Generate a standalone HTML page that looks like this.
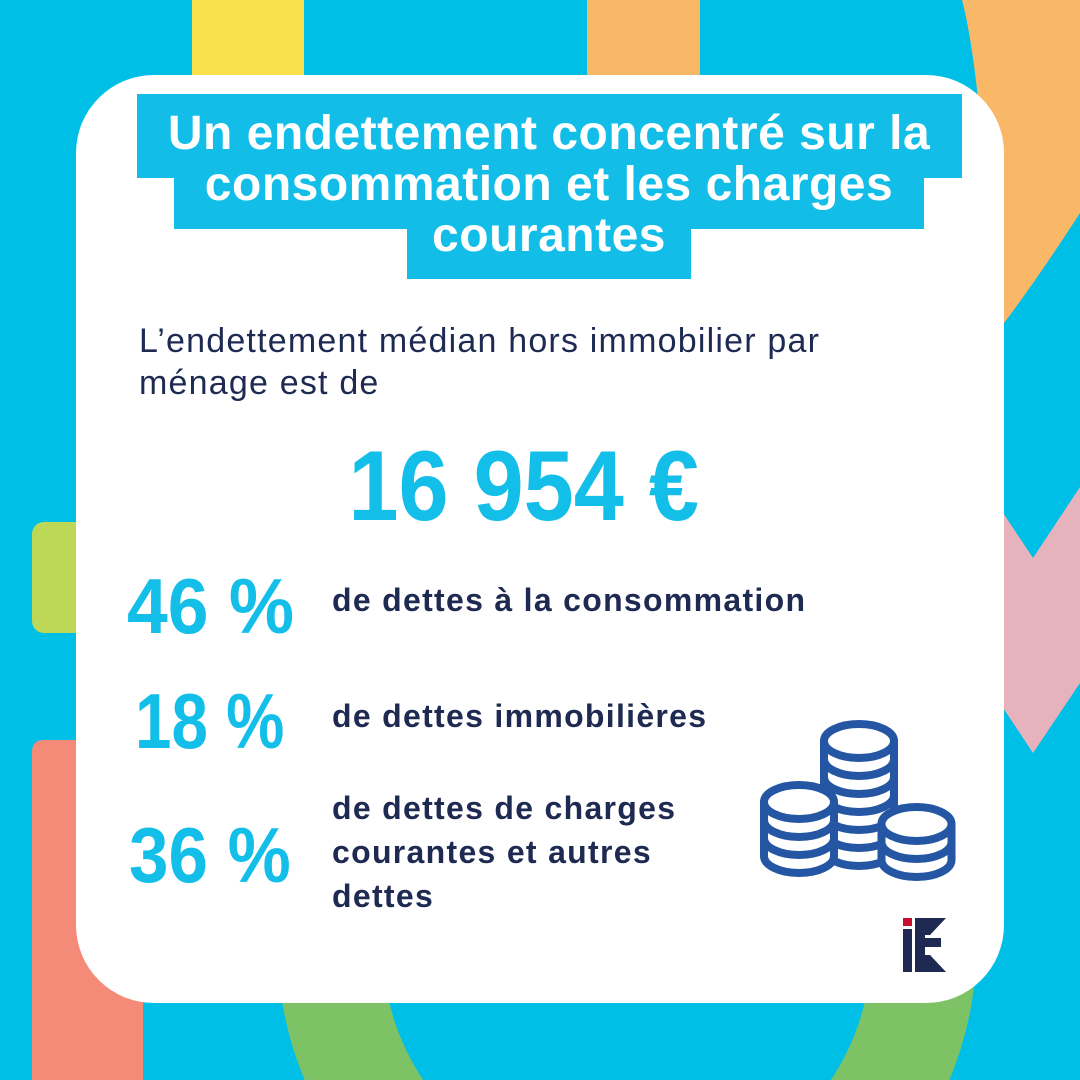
<!DOCTYPE html>
<html>
<head>
<meta charset="utf-8">
<style>
  html,body{margin:0;padding:0;width:1080px;height:1080px;overflow:hidden;}
  body{position:relative;background:#00BFE7;font-family:"Liberation Sans",Arial,sans-serif;}
  .abs{position:absolute;}
  .card{position:absolute;left:76px;top:75px;width:928px;height:928px;background:#fff;border-radius:78px;}
  .tbox{position:absolute;background:#12BEE8;}
  .title{position:absolute;left:99px;width:900px;text-align:center;color:#fff;font-weight:bold;font-size:48px;line-height:51px;letter-spacing:0.5px;white-space:nowrap;}
  .sub{position:absolute;left:139px;color:#1E2A52;font-size:34px;line-height:42px;letter-spacing:1.2px;white-space:nowrap;}
  .big{position:absolute;left:0;width:1047px;text-align:center;top:436px;font-size:99px;line-height:99px;font-weight:bold;color:#13BFE8;white-space:nowrap;}
  .big span{display:inline-block;transform:scaleX(0.91);}
  .pct{position:absolute;font-size:78px;line-height:78px;font-weight:bold;color:#13BFE8;white-space:nowrap;transform-origin:0 0;}
  .lab{position:absolute;left:332px;font-size:32px;line-height:44px;font-weight:bold;color:#1E2A52;letter-spacing:1.3px;white-space:nowrap;}
</style>
</head>
<body>
<svg class="abs" style="left:0;top:0" width="1080" height="1080" viewBox="0 0 1080 1080">
  <rect x="192" y="0" width="112" height="120" fill="#F9E04C"/>
  <rect x="587" y="0" width="113" height="120" fill="#F9B868"/>
  <path d="M962 0 C978 60 990 200 990 340 L1004 323 Q1038 278 1080 213 L1080 0 Z" fill="#F9B868"/>
  <path d="M970 463 L1033 558 L1080 487 L1080 683 L1033 753 L970 658 Z" fill="#E6B2BC"/>
  <rect x="32" y="522" width="80" height="111" rx="12" fill="#BCD856"/>
  <path d="M32 1080 L32 752 Q32 740 44 740 L143 740 L143 1080 Z" fill="#F38B78"/>
  <path d="M279.3 980 A349.5 349.5 0 0 0 304.6 1080 L423.1 1080 A244.5 244.5 0 0 1 385 980 Z" fill="#7DC366"/>
  <path d="M974.7 980 A349.5 349.5 0 0 1 949.4 1080 L830.9 1080 A244.5 244.5 0 0 0 869 980 Z" fill="#7DC366"/>
</svg>

<div class="card"></div>

<div class="tbox" style="left:137px;top:94px;width:825px;height:84px;"></div>
<div class="tbox" style="left:174px;top:177px;width:750px;height:52px;"></div>
<div class="tbox" style="left:407px;top:228px;width:284px;height:51px;"></div>

<div class="title" style="top:108px;">Un endettement concentré sur la</div>
<div class="title" style="top:159px;">consommation et les charges</div>
<div class="title" style="top:210px;">courantes</div>

<div class="sub" style="top:320px;">L’endettement médian hors immobilier par</div>
<div class="sub" style="top:362px;">ménage est de</div>

<div class="big"><span>16 954 €</span></div>

<div class="pct" style="left:127px;top:567px;transform:scaleX(0.94);">46 %</div>
<div class="pct" style="left:135px;top:682px;transform:scaleX(0.84);">18 %</div>
<div class="pct" style="left:129px;top:816px;transform:scaleX(0.91);">36 %</div>

<div class="lab" style="top:578px;">de dettes à la consommation</div>
<div class="lab" style="top:694px;">de dettes immobilières</div>
<div class="lab" style="top:786px;">de dettes de charges<br>courantes et autres<br>dettes</div>

<svg class="abs" style="left:0;top:0" width="1080" height="1080" viewBox="0 0 1080 1080">
  <g fill="#fff" stroke="#2456A4" stroke-width="8" stroke-linejoin="round">
    <path d="M824 741 L824 849 A35 17 0 0 0 894 849 L894 741 Z"/>
    <path fill="none" d="M824 759 A35 17 0 0 0 894 759"/>
    <path fill="none" d="M824 777 A35 17 0 0 0 894 777"/>
    <path fill="none" d="M824 795 A35 17 0 0 0 894 795"/>
    <path fill="none" d="M824 813 A35 17 0 0 0 894 813"/>
    <path fill="none" d="M824 831 A35 17 0 0 0 894 831"/>
    <ellipse cx="859" cy="741" rx="35" ry="17"/>
    <path d="M764 802 L764 856 A35 17 0 0 0 834 856 L834 802 Z"/>
    <path fill="none" d="M764 820 A35 17 0 0 0 834 820"/>
    <path fill="none" d="M764 838 A35 17 0 0 0 834 838"/>
    <ellipse cx="799" cy="802" rx="35" ry="17"/>
    <path d="M881.5 824 L881.5 860 A35 17 0 0 0 951.5 860 L951.5 824 Z"/>
    <path fill="none" d="M881.5 842 A35 17 0 0 0 951.5 842"/>
    <ellipse cx="916.5" cy="824" rx="35" ry="17"/>
  </g>
  <rect x="903" y="918" width="9" height="8" fill="#C8102E"/>
  <rect x="903" y="929" width="9" height="43" fill="#1E2A52"/>
  <polygon points="915,918 946,918 930,935 925,935 925,938 941,938 941,947 925,947 925,955 930,955 946,972 915,972" fill="#1E2A52"/>
</svg>
</body>
</html>
